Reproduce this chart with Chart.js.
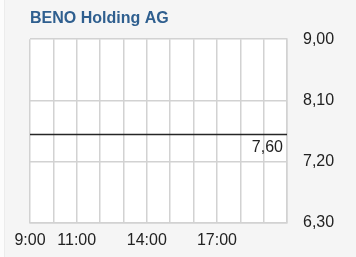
<!DOCTYPE html>
<html>
<head>
<meta charset="utf-8">
<script src="https://cdn.jsdelivr.net/npm/chart.js@4/dist/chart.umd.min.js"></script>
<style>
html,body{margin:0;padding:0;background:#f5f5f5;}
#wrap{position:relative;width:356px;height:257px;}
</style>
</head>
<body>
<div id="wrap"><canvas id="c" width="356" height="257"></canvas></div>
<script>
// Data
const titleText = "BENO Holding AG";
const times = [9, 20];            // hours (start and end of session)
const prices = [7.60, 7.60];      // flat price line
const lastLabel = "7,60";
const yTicks = [6.30, 7.20, 8.10, 9.00];
const xTickHours = [9, 11, 14, 17];
const xTickLabels = ["9:00", "11:00", "14:00", "17:00"];

const fmt = v => v.toFixed(2).replace('.', ',');

const bgPlugin = {
  id: 'bg',
  beforeDraw(chart) {
    const ctx = chart.ctx, a = chart.chartArea;
    ctx.save();
    ctx.fillStyle = '#f5f5f5';
    ctx.fillRect(0, 0, chart.width, chart.height);
    ctx.fillStyle = '#fcfcfc';
    ctx.fillRect(0, 0, 4, chart.height);
    ctx.fillStyle = '#ececec';
    ctx.fillRect(4, 0, 1, chart.height);
    ctx.fillStyle = '#ffffff';
    ctx.fillRect(a.left, a.top, a.right - a.left, a.bottom - a.top);
    ctx.restore();
  },
  afterDatasetsDraw(chart) {
    const ctx = chart.ctx;
    const xs = chart.scales.x, ys = chart.scales.y;
    const x = xs.getPixelForValue(times[times.length - 1]) - 4;
    const y = ys.getPixelForValue(prices[prices.length - 1]) + 13;
    ctx.save();
    ctx.font = '16px "Liberation Sans", Arial, sans-serif';
    ctx.fillStyle = '#222';
    ctx.textAlign = 'right';
    ctx.textBaseline = 'middle';
    ctx.fillText(lastLabel, x, y);
    ctx.restore();
  }
};

new Chart(document.getElementById('c'), {
  type: 'line',
  data: {
    datasets: [{
      data: times.map((t, i) => ({x: t, y: prices[i]})),
      borderColor: '#262626',
      borderWidth: 1.6,
      pointRadius: 0,
      tension: 0
    }]
  },
  options: {
    responsive: false,
    animation: false,
    devicePixelRatio: 1,
    layout: {padding: {left: 30, right: 0, top: 0, bottom: 0}},
    plugins: {
      legend: {display: false},
      tooltip: {enabled: false},
      title: {
        display: true,
        text: titleText,
        align: 'start',
        color: '#2f5f8f',
        font: {family: '"Liberation Sans", Arial, sans-serif', size: 16, weight: 'bold'},
        padding: {top: 9, bottom: 11}
      }
    },
    scales: {
      x: {
        type: 'linear',
        min: times[0],
        max: times[times.length - 1],
        afterBuildTicks(s) {
          const t = [];
          for (let h = times[0]; h <= times[times.length - 1]; h++) t.push({value: h});
          s.ticks = t;
        },
        afterFit(s) { s.height = 34; },
        border: {display: true, color: '#d2d2d2', width: 1.5},
        grid: {color: '#d2d2d2', lineWidth: 1.5, drawTicks: false},
        ticks: {
          autoSkip: false,
          maxRotation: 0,
          padding: 8,
          color: '#222',
          font: {family: '"Liberation Sans", Arial, sans-serif', size: 16},
          callback(v) {
            const i = xTickHours.indexOf(v);
            return i >= 0 ? xTickLabels[i] : '';
          }
        }
      },
      y: {
        position: 'right',
        min: yTicks[0],
        max: yTicks[yTicks.length - 1],
        afterBuildTicks(s) { s.ticks = yTicks.map(v => ({value: v})); },
        afterFit(s) { s.width = 69; },
        border: {display: true, color: '#d2d2d2', width: 1.5},
        grid: {color: '#d2d2d2', lineWidth: 1.5, drawTicks: false},
        ticks: {
          padding: 16,
          color: '#222',
          font: {family: '"Liberation Sans", Arial, sans-serif', size: 16},
          callback: v => fmt(v)
        }
      }
    }
  },
  plugins: [bgPlugin]
});
</script>
</body>
</html>
